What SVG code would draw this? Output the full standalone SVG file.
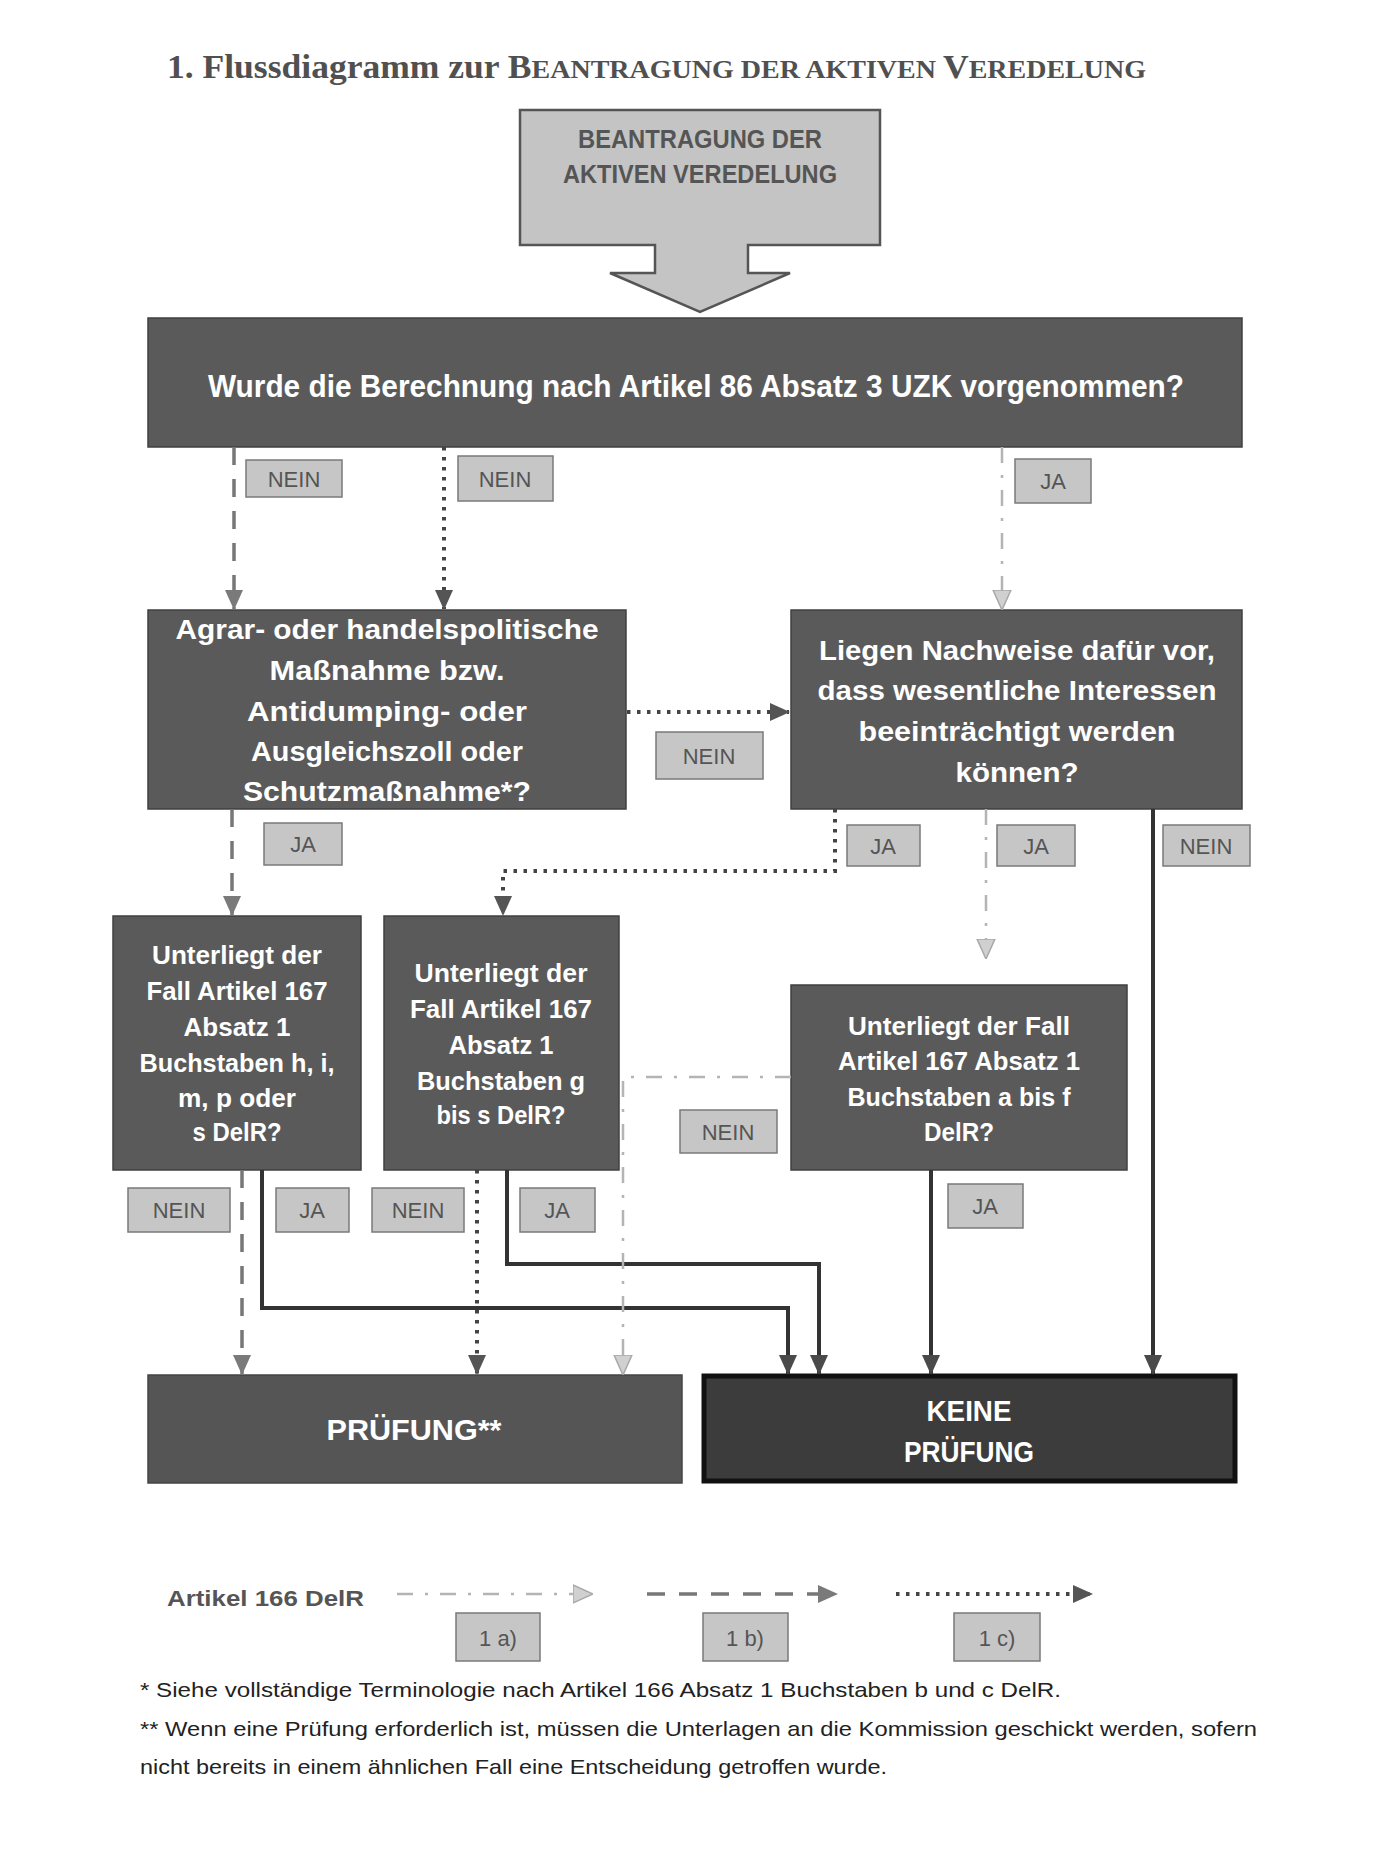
<svg xmlns="http://www.w3.org/2000/svg" width="1385" height="1865" viewBox="0 0 1385 1865">
<defs>
<style>
.title{font-family:"Liberation Serif",serif;font-weight:bold;fill:#505050}
.box{fill:#5a5a5a;stroke:#404040;stroke-width:1.5}
.wt{font-family:"Liberation Sans",Arial,sans-serif;font-weight:bold;fill:#ffffff;text-anchor:middle}
.lbl rect{fill:#c6c6c6;stroke:#7a7a7a;stroke-width:1.5}
.lbl text{font-family:"Liberation Sans",Arial,sans-serif;font-size:22px;fill:#555;text-anchor:middle}
.a{fill:none;stroke:#b4b4b4;stroke-width:2.5;stroke-dasharray:16 12 3 12}
.b{fill:none;stroke:#777;stroke-width:3.5;stroke-dasharray:18 14}
.c{fill:none;stroke:#444;stroke-width:4;stroke-dasharray:3.5 6.5}
.s{fill:none;stroke:#333;stroke-width:4}
.foot{font-family:"Liberation Sans",Arial,sans-serif;font-size:21px;fill:#222}
</style>
<marker id="ma" markerUnits="userSpaceOnUse" markerWidth="20" markerHeight="20" viewBox="0 0 20 20" refX="19" refY="10" orient="auto"><path d="M0,1 L20,10 L0,19 z" fill="#d0d0d0" stroke="#a8a8a8" stroke-width="1.5"/></marker>
<marker id="mb" markerUnits="userSpaceOnUse" markerWidth="20" markerHeight="20" viewBox="0 0 20 20" refX="19" refY="10" orient="auto"><path d="M0,1 L20,10 L0,19 z" fill="#7a7a7a"/></marker>
<marker id="mc" markerUnits="userSpaceOnUse" markerWidth="20" markerHeight="20" viewBox="0 0 20 20" refX="19" refY="10" orient="auto"><path d="M0,1 L20,10 L0,19 z" fill="#555"/></marker>
<marker id="ms" markerUnits="userSpaceOnUse" markerWidth="20" markerHeight="20" viewBox="0 0 20 20" refX="19" refY="10" orient="auto"><path d="M0,1 L20,10 L0,19 z" fill="#4a4a4a"/></marker>
</defs>
<rect width="1385" height="1865" fill="#ffffff"/>

<text class="title" x="167" y="78" font-size="33" textLength="979" lengthAdjust="spacingAndGlyphs">1. Flussdiagramm zur B<tspan font-size="26">EANTRAGUNG DER AKTIVEN </tspan>V<tspan font-size="26">EREDELUNG</tspan></text>

<g id="start">
<polygon points="520,110 880,110 880,245 748,245 748,273 790,273 700,312 610,273 655,273 655,245 520,245" fill="#c4c4c4" stroke="#555" stroke-width="2.5"/>
<text x="700" y="148" font-family="Liberation Sans,Arial,sans-serif" font-weight="bold" font-size="26" fill="#555" text-anchor="middle" textLength="244" lengthAdjust="spacingAndGlyphs">BEANTRAGUNG DER</text>
<text x="700" y="183" font-family="Liberation Sans,Arial,sans-serif" font-weight="bold" font-size="26" fill="#555" text-anchor="middle" textLength="274" lengthAdjust="spacingAndGlyphs">AKTIVEN VEREDELUNG</text>
</g>

<g id="q1">
<rect class="box" x="148" y="318" width="1094" height="129"/>
<text class="wt" x="696" y="397" font-size="32" textLength="976" lengthAdjust="spacingAndGlyphs">Wurde die Berechnung nach Artikel 86 Absatz 3 UZK vorgenommen?</text>
</g>

<g id="qA">
<rect class="box" x="148" y="610" width="478" height="199"/>
<text class="wt" x="387" y="639" font-size="27" textLength="423" lengthAdjust="spacingAndGlyphs">Agrar- oder handelspolitische</text>
<text class="wt" x="387" y="680" font-size="27" textLength="235" lengthAdjust="spacingAndGlyphs">Maßnahme bzw.</text>
<text class="wt" x="387" y="721" font-size="27" textLength="280" lengthAdjust="spacingAndGlyphs">Antidumping-  oder</text>
<text class="wt" x="387" y="761" font-size="27" textLength="272" lengthAdjust="spacingAndGlyphs">Ausgleichszoll oder</text>
<text class="wt" x="387" y="801" font-size="27" textLength="288" lengthAdjust="spacingAndGlyphs">Schutzmaßnahme*?</text>
</g>

<g id="qB">
<rect class="box" x="791" y="610" width="451" height="199"/>
<text class="wt" x="1017" y="660" font-size="28" textLength="396" lengthAdjust="spacingAndGlyphs">Liegen Nachweise dafür vor,</text>
<text class="wt" x="1017" y="700" font-size="28" textLength="399" lengthAdjust="spacingAndGlyphs">dass wesentliche Interessen</text>
<text class="wt" x="1017" y="741" font-size="28" textLength="317" lengthAdjust="spacingAndGlyphs">beeinträchtigt werden</text>
<text class="wt" x="1017" y="782" font-size="28" textLength="123" lengthAdjust="spacingAndGlyphs">können?</text>
</g>

<g id="qC">
<rect class="box" x="113" y="916" width="248" height="254"/>
<text class="wt" x="237" y="964" font-size="25" textLength="170" lengthAdjust="spacingAndGlyphs">Unterliegt der</text>
<text class="wt" x="237" y="1000" font-size="25" textLength="181" lengthAdjust="spacingAndGlyphs">Fall Artikel 167</text>
<text class="wt" x="237" y="1036" font-size="25" textLength="107" lengthAdjust="spacingAndGlyphs">Absatz 1</text>
<text class="wt" x="237" y="1072" font-size="25" textLength="195" lengthAdjust="spacingAndGlyphs">Buchstaben h, i,</text>
<text class="wt" x="237" y="1107" font-size="25" textLength="118" lengthAdjust="spacingAndGlyphs">m, p oder</text>
<text class="wt" x="237" y="1141" font-size="25" textLength="89" lengthAdjust="spacingAndGlyphs">s DelR?</text>
</g>

<g id="qD">
<rect class="box" x="384" y="916" width="235" height="254"/>
<text class="wt" x="501" y="982" font-size="25" textLength="173" lengthAdjust="spacingAndGlyphs">Unterliegt der</text>
<text class="wt" x="501" y="1018" font-size="25" textLength="182" lengthAdjust="spacingAndGlyphs">Fall Artikel 167</text>
<text class="wt" x="501" y="1054" font-size="25" textLength="105" lengthAdjust="spacingAndGlyphs">Absatz 1</text>
<text class="wt" x="501" y="1090" font-size="25" textLength="168" lengthAdjust="spacingAndGlyphs">Buchstaben g</text>
<text class="wt" x="501" y="1124" font-size="25" textLength="129" lengthAdjust="spacingAndGlyphs">bis s DelR?</text>
</g>

<g id="qE">
<rect class="box" x="791" y="985" width="336" height="185"/>
<text class="wt" x="959" y="1035" font-size="25" textLength="222" lengthAdjust="spacingAndGlyphs">Unterliegt der Fall</text>
<text class="wt" x="959" y="1070" font-size="25" textLength="242" lengthAdjust="spacingAndGlyphs">Artikel 167 Absatz 1</text>
<text class="wt" x="959" y="1106" font-size="25" textLength="223" lengthAdjust="spacingAndGlyphs">Buchstaben a bis f</text>
<text class="wt" x="959" y="1141" font-size="25" textLength="70" lengthAdjust="spacingAndGlyphs">DelR?</text>
</g>

<g id="pruefung">
<rect x="148" y="1375" width="534" height="108" fill="#555" stroke="#444" stroke-width="1.5"/>
<text class="wt" x="414" y="1440" font-size="30" textLength="175" lengthAdjust="spacingAndGlyphs">PRÜFUNG**</text>
</g>

<g id="keine">
<rect x="704" y="1376" width="531" height="105" fill="#3c3c3c" stroke="#111" stroke-width="5"/>
<text class="wt" x="969" y="1421" font-size="30" textLength="85" lengthAdjust="spacingAndGlyphs">KEINE</text>
<text class="wt" x="969" y="1462" font-size="30" textLength="130" lengthAdjust="spacingAndGlyphs">PRÜFUNG</text>
</g>

<g id="connectors">
<path class="b" d="M234,447 V609" marker-end="url(#mb)"/>
<path class="c" d="M444,447 V609" marker-end="url(#mc)"/>
<path class="a" d="M1002,447 V609" marker-end="url(#ma)"/>
<path class="c" d="M627,712 H789" marker-end="url(#mc)"/>
<path class="b" d="M232,809 V915" marker-end="url(#mb)"/>
<path class="c" d="M835,809 V871 H503 V915" marker-end="url(#mc)"/>
<path class="a" d="M986,809 V958" marker-end="url(#ma)"/>
<path class="s" d="M1153,809 V1374" marker-end="url(#ms)"/>
<path class="b" d="M242,1170 V1374" marker-end="url(#mb)"/>
<path class="s" d="M262,1170 V1308 H788 V1374" marker-end="url(#ms)"/>
<path class="c" d="M477,1170 V1374" marker-end="url(#mc)"/>
<path class="s" d="M507,1170 V1264 H819 V1374" marker-end="url(#ms)"/>
<path class="a" d="M791,1077 H623 V1374" marker-end="url(#ma)"/>
<path class="s" d="M931,1170 V1374" marker-end="url(#ms)"/>
</g>

<g id="labels">
<g class="lbl"><rect x="246" y="460" width="96" height="37"/><text x="294" y="487">NEIN</text></g>
<g class="lbl"><rect x="458" y="456" width="95" height="45"/><text x="505" y="487">NEIN</text></g>
<g class="lbl"><rect x="1015" y="459" width="76" height="44"/><text x="1053" y="489">JA</text></g>
<g class="lbl"><rect x="656" y="732" width="107" height="47"/><text x="709" y="764">NEIN</text></g>
<g class="lbl"><rect x="264" y="823" width="78" height="42"/><text x="303" y="852">JA</text></g>
<g class="lbl"><rect x="847" y="825" width="73" height="41"/><text x="883" y="854">JA</text></g>
<g class="lbl"><rect x="997" y="825" width="78" height="41"/><text x="1036" y="854">JA</text></g>
<g class="lbl"><rect x="1163" y="825" width="87" height="41"/><text x="1206" y="854">NEIN</text></g>
<g class="lbl"><rect x="128" y="1188" width="102" height="44"/><text x="179" y="1218">NEIN</text></g>
<g class="lbl"><rect x="276" y="1188" width="73" height="44"/><text x="312" y="1218">JA</text></g>
<g class="lbl"><rect x="372" y="1188" width="92" height="44"/><text x="418" y="1218">NEIN</text></g>
<g class="lbl"><rect x="520" y="1188" width="75" height="44"/><text x="557" y="1218">JA</text></g>
<g class="lbl"><rect x="680" y="1110" width="97" height="43"/><text x="728" y="1140">NEIN</text></g>
<g class="lbl"><rect x="948" y="1184" width="75" height="44"/><text x="985" y="1214">JA</text></g>
</g>

<g id="legend">
<text x="167" y="1606" font-family="Liberation Sans,Arial,sans-serif" font-weight="bold" font-size="22" fill="#555" textLength="197" lengthAdjust="spacingAndGlyphs">Artikel 166 DelR</text>
<path class="a" d="M397,1594 H592" marker-end="url(#ma)"/>
<path class="b" d="M647,1594 H837" marker-end="url(#mb)"/>
<path class="c" d="M896,1594 H1092" marker-end="url(#mc)"/>
<g class="lbl"><rect x="456" y="1613" width="84" height="48"/><text x="498" y="1646" font-size="24">1 a)</text></g>
<g class="lbl"><rect x="703" y="1613" width="85" height="48"/><text x="745" y="1646" font-size="24">1 b)</text></g>
<g class="lbl"><rect x="954" y="1613" width="86" height="48"/><text x="997" y="1646" font-size="24">1 c)</text></g>
</g>

<g id="footnotes">
<text class="foot" x="140" y="1697" textLength="921" lengthAdjust="spacingAndGlyphs">* Siehe vollständige Terminologie nach Artikel 166 Absatz 1 Buchstaben b und c DelR.</text>
<text class="foot" x="140" y="1736" textLength="1117" lengthAdjust="spacingAndGlyphs">** Wenn eine Prüfung erforderlich ist, müssen die Unterlagen an die Kommission geschickt werden, sofern</text>
<text class="foot" x="140" y="1774" textLength="747" lengthAdjust="spacingAndGlyphs">nicht bereits in einem ähnlichen Fall eine Entscheidung getroffen wurde.</text>
</g>
</svg>
